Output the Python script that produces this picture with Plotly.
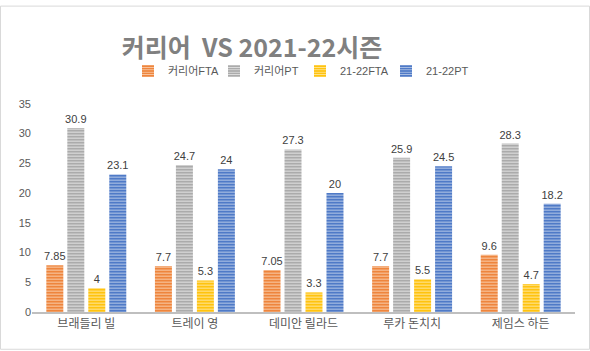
import plotly.graph_objects as go

players = ["브래들리 빌", "트레이 영", "데미안 릴라드", "루카 돈치치", "제임스 하든"]
career_fta = [7.85, 7.7, 7.05, 7.7, 9.6]
career_pt = [30.9, 24.7, 27.3, 25.9, 28.3]
season_fta = [4, 5.3, 3.3, 5.5, 4.7]
season_pt = [23.1, 24, 20, 24.5, 18.2]
series_names = ["커리어FTA", "커리어PT", "21-22FTA", "21-22PT"]
y_ticks = [0, 5, 10, 15, 20, 25, 30, 35]

colors = ["#ED7D31", "#A5A5A5", "#FFC000", "#4472C4"]
light = ["#F9CBA8", "#E2E2E2", "#FFE699", "#B4C7E7"]

W, H = 590, 351
L, R, T, B = 32, 15, 100, 38.5
pw, ph = W - L - R, H - T - B

fig = go.Figure()
for name, vals, c, lc in zip(series_names, [career_fta, career_pt, season_fta, season_pt], colors, light):
    fig.add_trace(go.Bar(
        x=players, y=vals, name=name,
        marker=dict(color=c, line=dict(width=0),
                    pattern=dict(shape="-", bgcolor=c, fgcolor=lc, size=3, solidity=0.4,
                                 fillmode="replace")),
        text=[str(v) for v in vals], textposition="outside",
        textfont=dict(size=11, color="#404040", family="Liberation Sans, Noto Sans CJK KR"),
        cliponaxis=False,
    ))

fig.update_layout(
    width=W, height=H,
    margin=dict(l=L, r=R, t=T, b=B),
    paper_bgcolor="white", plot_bgcolor="white",
    barmode="group", bargap=0.227, bargroupgap=0.19,
    uniformtext=dict(minsize=11, mode="show"),
    font=dict(family="Liberation Sans, Noto Sans CJK KR", color="#595959", size=11),
    title=dict(text="<b>커리어  VS 2021-22시즌</b>", x=252 / W, xanchor="center",
               y=1 - 48 / H, yanchor="middle",
               font=dict(size=25, color="#808080", family="Noto Sans CJK KR")),
    legend=dict(orientation="h", x=300 / W, xanchor="center", xref="container",
                y=1 - 71 / H, yanchor="middle", yref="container",
                font=dict(size=11, color="#595959", family="Liberation Sans, Noto Sans CJK KR"),
                itemwidth=30, entrywidth=41, traceorder="normal"),
    xaxis=dict(showgrid=False, showline=True, linecolor="#BFBFBF", linewidth=1.5,
               ticks="", tickfont=dict(size=12, color="#595959", family="Noto Sans CJK KR")),
    yaxis=dict(range=[0, 35], tickvals=y_ticks, showgrid=False, zeroline=False,
               showline=False, ticks="", tickfont=dict(size=11, color="#595959")),
    showlegend=True,
)

fig.add_shape(type="rect", xref="paper", yref="paper",
              x0=(0.5 - L) / pw, x1=(W - 0.5 - L) / pw,
              y0=(H - B - (H - 0.5)) / ph, y1=(H - B - 0.5) / ph,
              line=dict(color="#D9D9D9", width=1), fillcolor="rgba(0,0,0,0)", layer="below")

fig.write_html("out.html")
